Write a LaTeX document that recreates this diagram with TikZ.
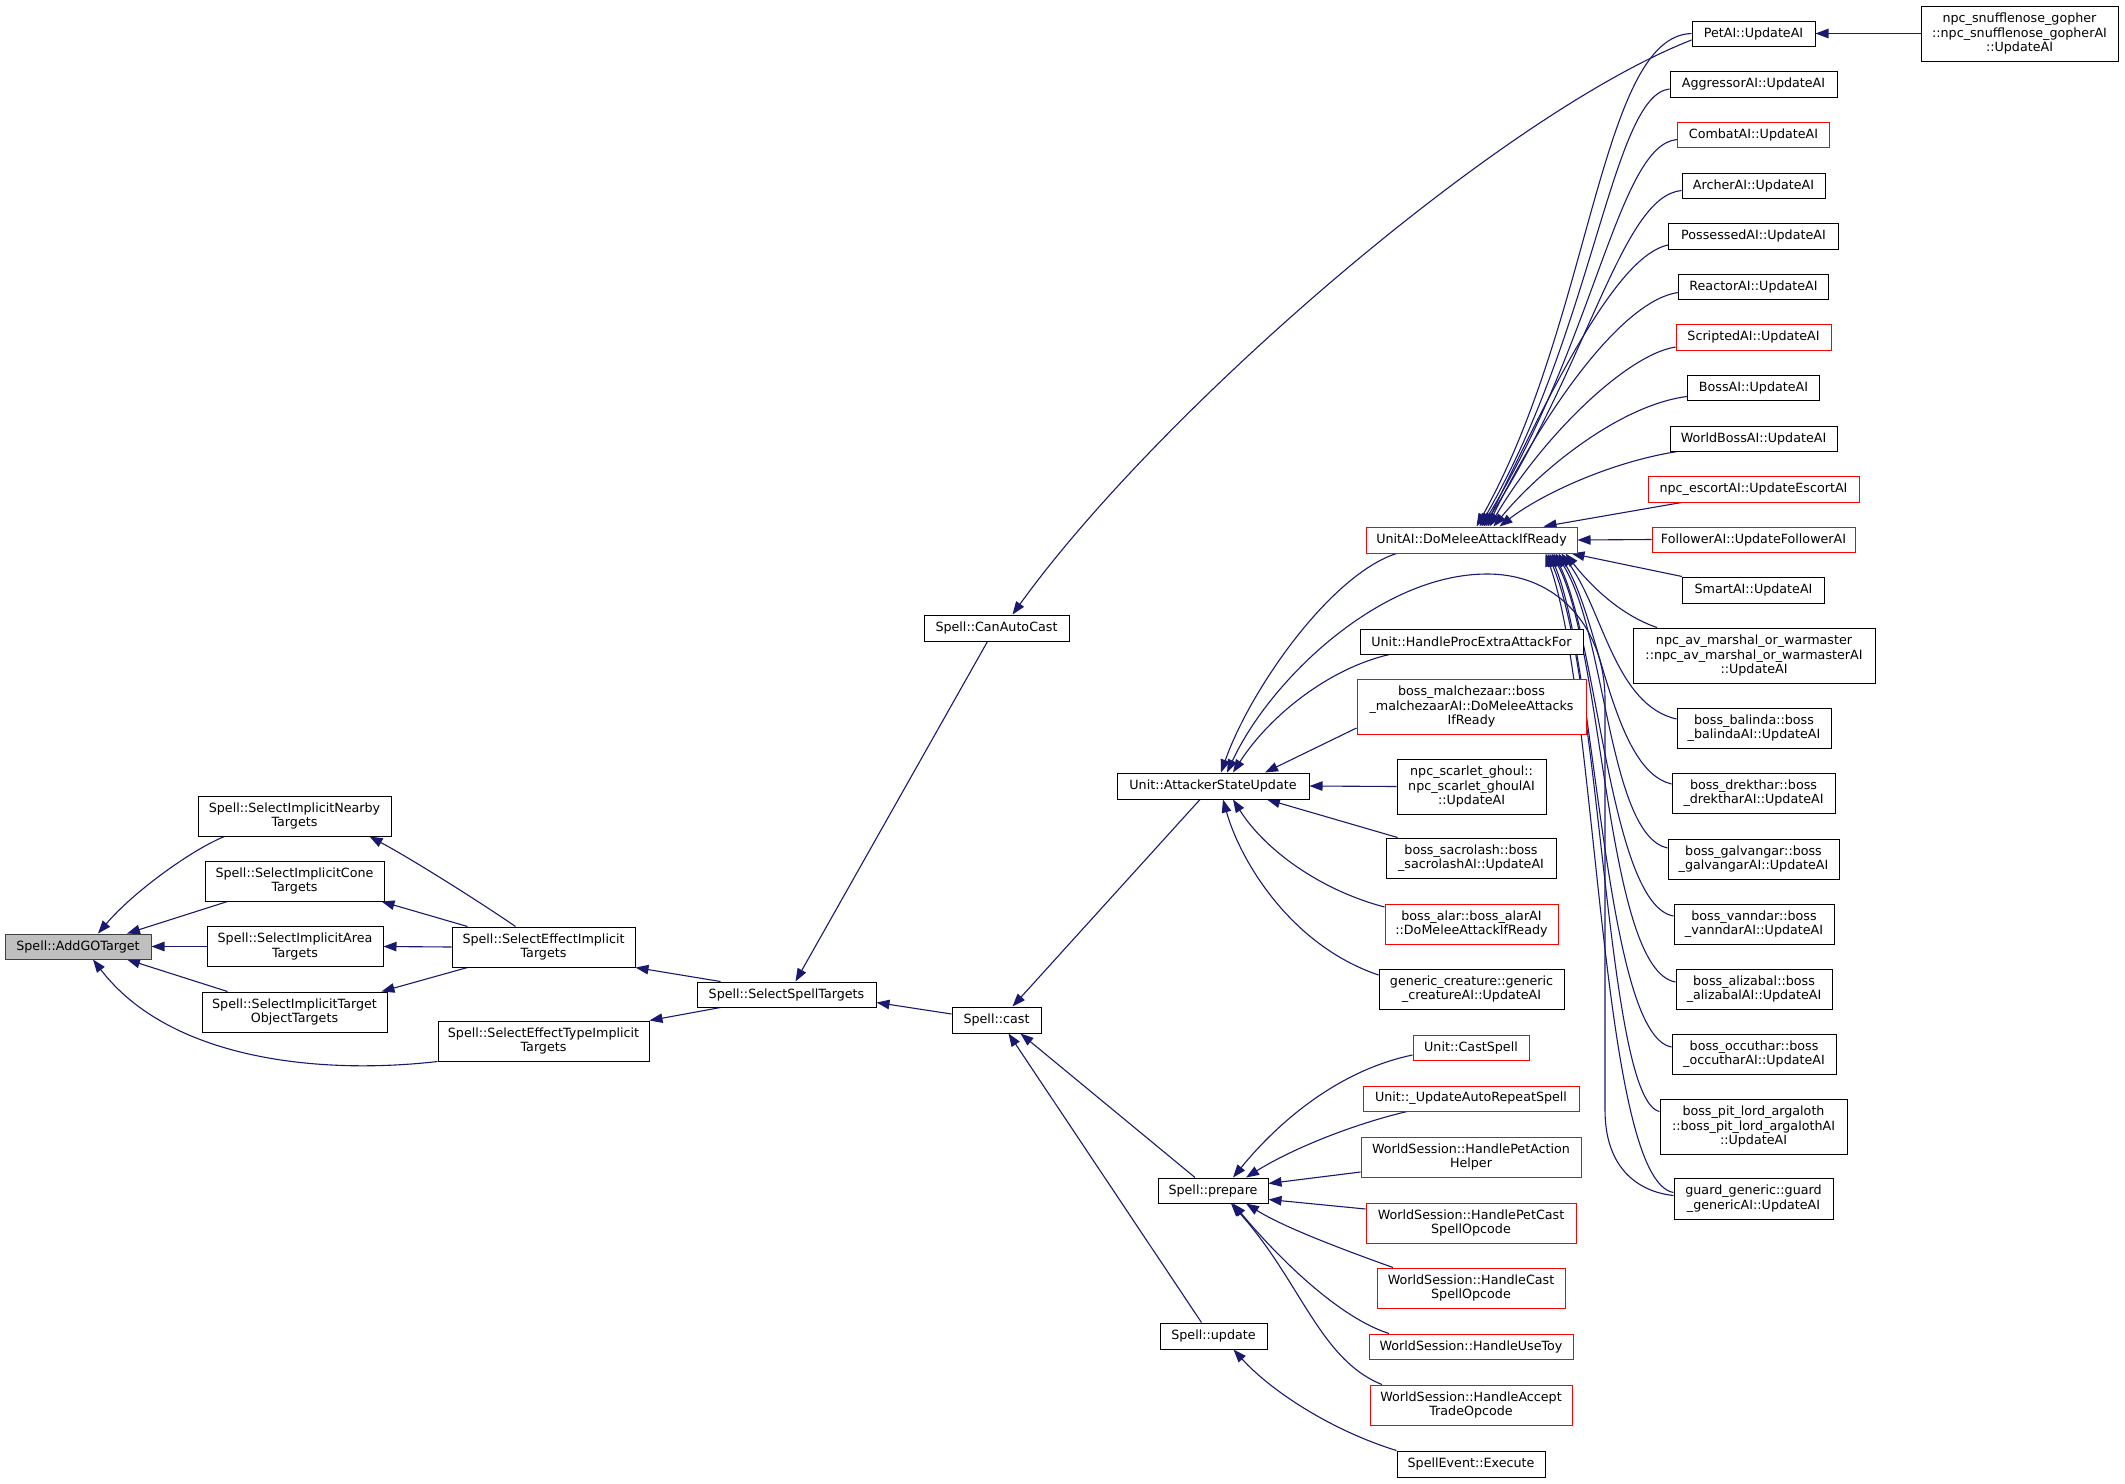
\documentclass[tikz,border=0pt]{standalone}
\usepackage{fontspec}
\setmainfont{DejaVu Sans}
\usetikzlibrary{arrows.meta}
\pgfdeclarelayer{background}
\pgfsetlayers{background,main}
\definecolor{callblue}{HTML}{191970}
\definecolor{grayfill}{HTML}{BFBFBF}
\definecolor{trunc}{HTML}{FF0000}
\tikzset{
  fn/.style={draw=black, line width=1pt, rectangle, inner sep=0pt, align=center,
             font=\fontsize{12.7}{14.6}\selectfont, fill=white},
  rfn/.style={fn, draw=trunc},
  wh/.style 2 args={minimum width=#1, minimum height=#2},
  call/.style={draw=callblue, line width=1.1pt, -{Triangle[length=13pt,width=9.5pt]}},
}
\begin{document}
\begin{tikzpicture}[x=1pt,y=-1pt]
\useasboundingbox (0,0) rectangle (2125,1483);
% ---- left part
\node[fn, fill=grayfill, draw=black!75, wh={146}{25}] (addgo) at (78,946.5) {Spell::AddGOTarget};
\node[fn, wh={193}{40}] (nearby) at (294.5,816) {Spell::SelectImplicitNearby\\Targets};
\node[fn, wh={179}{40}] (cone) at (294.5,881) {Spell::SelectImplicitCone\\Targets};
\node[fn, wh={176}{40}] (area) at (295,946.5) {Spell::SelectImplicitArea\\Targets};
\node[fn, wh={185}{40}] (tobj) at (294.5,1012) {Spell::SelectImplicitTarget\\ObjectTargets};
\node[fn, wh={183}{40}] (effimpl) at (543.5,947) {Spell::SelectEffectImplicit\\Targets};
\node[fn, wh={211}{40}] (efftype) at (543.5,1041) {Spell::SelectEffectTypeImplicit\\Targets};
\node[fn, wh={179}{25}] (sst) at (786.5,994.5) {Spell::SelectSpellTargets};
\node[fn, wh={145}{26}] (canauto) at (996.5,628) {Spell::CanAutoCast};
\node[fn, wh={89}{26}] (cast) at (996.5,1020) {Spell::cast};
\node[fn, wh={192}{26}] (asu) at (1213,786) {Unit::AttackerStateUpdate};
\node[fn, wh={110}{25}] (prepare) at (1213,1190.5) {Spell::prepare};
\node[fn, wh={107}{26}] (update) at (1213.5,1336) {Spell::update};
% ---- middle column
\node[rfn, wh={211}{26}] (domelee) at (1471.5,540) {UnitAI::DoMeleeAttackIfReady};
\node[fn, wh={223}{25}] (hpe) at (1471.5,641.5) {Unit::HandleProcExtraAttackFor};
\node[rfn, wh={229}{55}] (malch) at (1471.5,706.5) {boss\_malchezaar::boss\\\_malchezaarAI::DoMeleeAttacks\\IfReady};
\node[fn, wh={149}{55}] (ghoul) at (1471.5,786.5) {npc\_scarlet\_ghoul::\\npc\_scarlet\_ghoulAI\\::UpdateAI};
\node[fn, wh={170}{40}] (sacro) at (1471,858) {boss\_sacrolash::boss\\\_sacrolashAI::UpdateAI};
\node[rfn, wh={173}{40}] (alar) at (1471.5,924) {boss\_alar::boss\_alarAI\\::DoMeleeAttackIfReady};
\node[fn, wh={185}{40}] (generic) at (1471.5,989) {generic\_creature::generic\\\_creatureAI::UpdateAI};
\node[rfn, wh={116}{25}] (castspell) at (1471,1047.5) {Unit::CastSpell};
\node[rfn, wh={216}{25}] (autorep) at (1471,1098.5) {Unit::\_UpdateAutoRepeatSpell};
\node[rfn, wh={220}{40}] (petaction) at (1471,1157) {WorldSession::HandlePetAction\\Helper};
\node[rfn, wh={210}{40}] (petcast) at (1471,1223) {WorldSession::HandlePetCast\\SpellOpcode};
\node[rfn, wh={188}{40}] (castop) at (1471,1288) {WorldSession::HandleCast\\SpellOpcode};
\node[rfn, wh={204}{25}] (usetoy) at (1471,1346.5) {WorldSession::HandleUseToy};
\node[rfn, wh={202}{40}] (accept) at (1471,1405) {WorldSession::HandleAccept\\TradeOpcode};
\node[fn, wh={148}{26}] (spellevent) at (1471,1464) {SpellEvent::Execute};
% ---- right column
\node[fn, wh={123}{25}] (petai) at (1753.5,33.5) {PetAI::UpdateAI};
\node[fn, wh={167}{26}] (aggr) at (1753.5,84) {AggressorAI::UpdateAI};
\node[rfn, wh={152}{25}] (combat) at (1753.5,134.5) {CombatAI::UpdateAI};
\node[fn, wh={143}{25}] (archer) at (1753.5,185.5) {ArcherAI::UpdateAI};
\node[fn, wh={170}{26}] (possessed) at (1753.5,236) {PossessedAI::UpdateAI};
\node[fn, wh={150}{25}] (reactor) at (1753.5,286.5) {ReactorAI::UpdateAI};
\node[rfn, wh={155}{26}] (scripted) at (1753.5,337) {ScriptedAI::UpdateAI};
\node[fn, wh={132}{25}] (boss) at (1753.5,387.5) {BossAI::UpdateAI};
\node[fn, wh={167}{25}] (worldboss) at (1753.5,438.5) {WorldBossAI::UpdateAI};
\node[rfn, wh={211}{26}] (escort) at (1753.5,489) {npc\_escortAI::UpdateEscortAI};
\node[rfn, wh={203}{25}] (follower) at (1753.5,539.5) {FollowerAI::UpdateFollowerAI};
\node[fn, wh={142}{26}] (smart) at (1753.5,590) {SmartAI::UpdateAI};
\node[fn, wh={242}{55}] (avmarshal) at (1754,655.5) {npc\_av\_marshal\_or\_warmaster\\::npc\_av\_marshal\_or\_warmasterAI\\::UpdateAI};
\node[fn, wh={154}{40}] (balinda) at (1754,728) {boss\_balinda::boss\\\_balindaAI::UpdateAI};
\node[fn, wh={163}{40}] (drekthar) at (1753.5,793) {boss\_drekthar::boss\\\_drektharAI::UpdateAI};
\node[fn, wh={171}{40}] (galvangar) at (1753.5,859) {boss\_galvangar::boss\\\_galvangarAI::UpdateAI};
\node[fn, wh={160}{40}] (vanndar) at (1754,924) {boss\_vanndar::boss\\\_vanndarAI::UpdateAI};
\node[fn, wh={156}{40}] (alizabal) at (1754,989) {boss\_alizabal::boss\\\_alizabalAI::UpdateAI};
\node[fn, wh={164}{40}] (occuthar) at (1754,1054) {boss\_occuthar::boss\\\_occutharAI::UpdateAI};
\node[fn, wh={187}{55}] (pitlord) at (1753.5,1126.5) {boss\_pit\_lord\_argaloth\\::boss\_pit\_lord\_argalothAI\\::UpdateAI};
\node[fn, wh={159}{41}] (guard) at (1753.5,1198.5) {guard\_generic::guard\\\_genericAI::UpdateAI};
\node[fn, wh={197}{55}] (snuffle) at (2019.5,33.5) {npc\_snufflenose\_gopher\\::npc\_snufflenose\_gopherAI\\::UpdateAI};

\begin{pgfonlayer}{background}
% left part
\draw[call] ([xshift=-70]nearby.south) .. controls (195,848) and (135,890) .. ([xshift=20]addgo.north);
\draw[call] ([xshift=-67]cone.south) -- ([xshift=49]addgo.north);
\draw[call] (area.west) -- (addgo.east);
\draw[call] ([xshift=-67]tobj.north) -- ([xshift=49]addgo.south);
\draw[call] (efftype.south west) .. controls (320,1075) and (170,1060) .. ([xshift=15]addgo.south);
\draw[call] ([xshift=-28]effimpl.north) .. controls (480,902) and (410,858) .. ([xshift=75]nearby.south);
\draw[call] ([xshift=-76]effimpl.north) -- ([xshift=87]cone.south);
\draw[call] (effimpl.west) -- (area.east);
\draw[call] ([xshift=-76]effimpl.south) -- ([xshift=87]tobj.north);
\draw[call] ([xshift=-66]sst.north) -- (effimpl.south east);
\draw[call] ([xshift=-66]sst.south) -- (efftype.north east);
\draw[call] ([xshift=-9]canauto.south) -- ([xshift=9]sst.north);
\draw[call] ([yshift=6]cast.west) -- ([yshift=-8]sst.east);
\draw[call] ([yshift=-6.5]petai.west) .. controls (1500,115) and (1160,410) .. ([xshift=16]canauto.north);
\draw[call] ([xshift=-13]asu.south) -- ([xshift=16]cast.north);
\draw[call] ([xshift=-18]prepare.north) -- ([xshift=24]cast.south);
\draw[call] ([xshift=-12]update.north) -- ([xshift=12]cast.south);
% into AttackerStateUpdate
\draw[call] ([xshift=-75]domelee.south) .. controls (1330,575) and (1250,690) .. ([xshift=8]asu.north);
\draw[call] ([xshift=-82]hpe.south) .. controls (1330,668) and (1270,715) .. ([xshift=20]asu.north);
\draw[call] ([yshift=-21.5]malch.west) -- ([xshift=52]asu.north);
\draw[call] (ghoul.west) -- (asu.east);
\draw[call] ([xshift=12]sacro.north west) -- ([xshift=54]asu.south);
\draw[call] ([yshift=17]alar.west) .. controls (1320,890) and (1265,850) .. ([xshift=20]asu.south);
\draw[call] ([yshift=14]generic.west) .. controls (1290,945) and (1240,860) .. ([xshift=10]asu.south);
\draw[call] ([yshift=3]guard.west) .. controls (1640,1192) and (1605,1170) .. (1605,1110) -- (1605,700)
   .. controls (1605,630) and (1560,574) .. (1487,574) .. controls (1380,574) and (1270,680) .. ([xshift=14]asu.north);
% into prepare / update
\draw[call] ([yshift=-7.5]castspell.west) .. controls (1340,1070) and (1280,1120) .. ([xshift=20]prepare.north);
\draw[call] ([xshift=-64]autorep.south) .. controls (1350,1125) and (1290,1150) .. ([xshift=33]prepare.north);
\draw[call] ([yshift=-15]petaction.west) -- ([yshift=7]prepare.east);
\draw[call] ([yshift=14]petcast.west) -- ([yshift=-9]prepare.east);
\draw[call] ([xshift=-78]castop.north) .. controls (1330,1245) and (1280,1225) .. ([xshift=33]prepare.south);
\draw[call] ([xshift=-82]usetoy.north) .. controls (1340,1318) and (1280,1260) .. ([xshift=20]prepare.south);
\draw[call] ([xshift=-89]accept.north) .. controls (1320,1360) and (1300,1280) .. ([xshift=18]prepare.south);
\draw[call] (spellevent.north west) .. controls (1330,1430) and (1270,1390) .. ([xshift=20]update.south);
% into DoMeleeAttackIfReady (top)
\draw[call] (petai.west) .. controls (1600,36) and (1592,320) .. ([xshift=5]domelee.north);
\draw[call] ([yshift=-5]aggr.west) .. controls (1612,95) and (1594,330) .. ([xshift=8]domelee.north);
\draw[call] ([yshift=-5]combat.west) .. controls (1618,145) and (1596,340) .. ([xshift=10]domelee.north);
\draw[call] ([yshift=-5]archer.west) .. controls (1622,196) and (1590,360) .. ([xshift=12]domelee.north);
\draw[call] ([yshift=-9]possessed.west) .. controls (1620,255) and (1560,370) .. ([xshift=14]domelee.north);
\draw[call] ([yshift=-6]reactor.west) .. controls (1625,300) and (1550,400) .. ([xshift=16]domelee.north);
\draw[call] ([yshift=-10]scripted.west) .. controls (1625,355) and (1540,440) .. ([xshift=18]domelee.north);
\draw[call] ([yshift=-9]boss.west) .. controls (1620,405) and (1540,470) .. ([xshift=22]domelee.north);
\draw[call] ([xshift=8]worldboss.south west) .. controls (1610,462) and (1540,495) .. ([xshift=28]domelee.north);
\draw[call] ([xshift=-72]escort.south) -- ([xshift=72]domelee.north);
\draw[call] (follower.west) -- (domelee.east);
\draw[call] (smart.north west) -- ([xshift=-6]domelee.south east);
% into DoMeleeAttackIfReady (bottom)
\draw[call] ([xshift=-97]avmarshal.north) .. controls (1620,615) and (1590,585) .. ([xshift=-12]domelee.south east);
\draw[call] ([yshift=9]balinda.west) .. controls (1615,705) and (1603,610) .. ([xshift=-16]domelee.south east);
\draw[call] ([yshift=9]drekthar.west) .. controls (1612,770) and (1600,620) .. ([xshift=-19]domelee.south east);
\draw[call] ([yshift=11]galvangar.west) .. controls (1608,835) and (1606,630) .. ([xshift=-22]domelee.south east);
\draw[call] ([yshift=8]vanndar.west) .. controls (1610,905) and (1598,640) .. ([xshift=-24]domelee.south east);
\draw[call] ([yshift=7]alizabal.west) .. controls (1606,970) and (1604,650) .. ([xshift=-26]domelee.south east);
\draw[call] ([yshift=7]occuthar.west) .. controls (1604,1035) and (1596,660) .. ([xshift=-28]domelee.south east);
\draw[call] ([yshift=15]pitlord.west) .. controls (1606,1100) and (1602,680) .. ([xshift=-30]domelee.south east);
\draw[call] ([yshift=6]guard.west) .. controls (1600,1180) and (1598,700) .. ([xshift=-32]domelee.south east);
% snufflenose
\draw[call] (snuffle.west) -- (petai.east);
\end{pgfonlayer}
\end{tikzpicture}
\end{document}
